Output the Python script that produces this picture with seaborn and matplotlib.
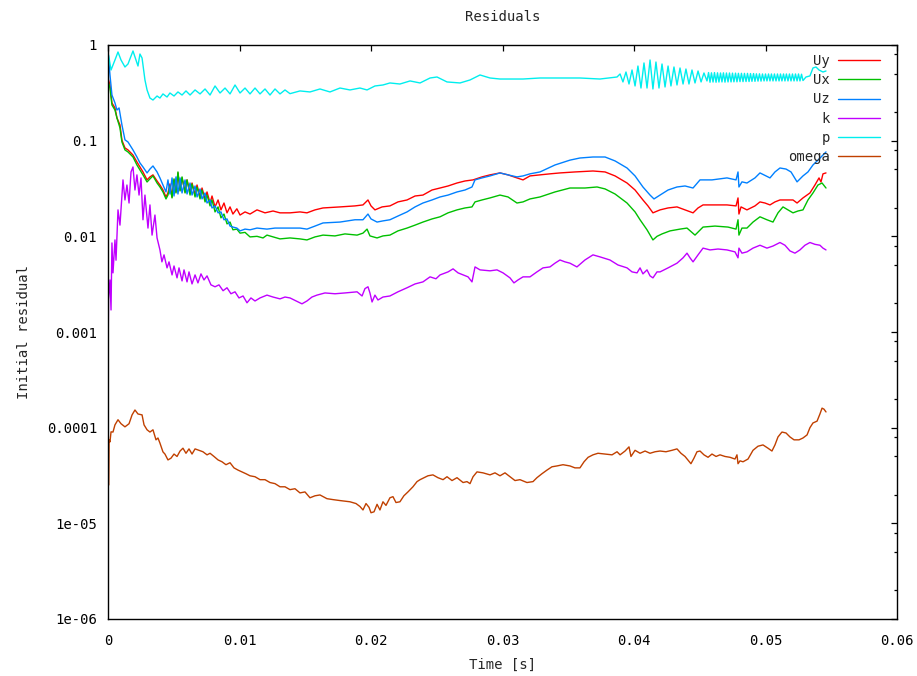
import numpy as np
import pandas as pd
import matplotlib
matplotlib.use("Agg")
import matplotlib.pyplot as plt
from matplotlib.lines import Line2D
from matplotlib.ticker import FixedLocator, NullFormatter
import seaborn as sns

# ---------------- data ----------------
fields = ["Uy", "Ux", "Uz", "k", "p", "omega"]
colors = ["#ff0000", "#00c000", "#0080ff", "#c000ff", "#00eeee", "#c04000"]

x_ticks = [0, 0.01, 0.02, 0.03, 0.04, 0.05, 0.06]
x_tick_labels = ["0", "0.01", "0.02", "0.03", "0.04", "0.05", "0.06"]
y_ticks = [1e-6, 1e-5, 1e-4, 1e-3, 1e-2, 1e-1, 1]
y_tick_labels = ["1e-06", "1e-05", "0.0001", "0.001", "0.01", "0.1", "1"]
y_minor_ticks = [m * 10.0 ** e for e in range(-6, 0) for m in (2, 5, 8)]

# (time [s], initial residual)
uy = [(0, 0.45), (0.00015, 0.382), (0.0003, 0.248), (0.00053, 0.22), (0.00068, 0.173), (0.00091, 0.146),
      (0.00106, 0.101), (0.00129, 0.084), (0.00152, 0.080), (0.0019, 0.0708), (0.0022, 0.0599),
      (0.00243, 0.0531), (0.00266, 0.0471), (0.00297, 0.0389), (0.00319, 0.0418), (0.00342, 0.0439),
      (0.00373, 0.0379), (0.00395, 0.0344), (0.00418, 0.0305), (0.00441, 0.0258), (0.00456, 0.0284),
      (0.00471, 0.0353), (0.00487, 0.0258), (0.00502, 0.0389), (0.00517, 0.0291), (0.00532, 0.046),
      (0.00548, 0.0305), (0.00563, 0.0408), (0.00586, 0.0291), (0.00601, 0.0389), (0.00624, 0.0284),
      (0.00639, 0.0361), (0.00662, 0.0271), (0.00677, 0.0344), (0.007, 0.0258), (0.00715, 0.032),
      (0.00738, 0.0246), (0.00753, 0.0291), (0.00776, 0.0223), (0.00791, 0.0264), (0.00814, 0.0203),
      (0.00837, 0.024), (0.00859, 0.0189), (0.00882, 0.0223), (0.00905, 0.0176), (0.00928, 0.0203),
      (0.0095, 0.0171), (0.0098, 0.0194), (0.01004, 0.0167), (0.01042, 0.018), (0.0108, 0.0171),
      (0.01133, 0.0189), (0.01194, 0.0176), (0.01255, 0.0184), (0.01308, 0.0176), (0.01384, 0.0176),
      (0.0146, 0.018), (0.01513, 0.0176), (0.01574, 0.0189), (0.01635, 0.0198), (0.01764, 0.0203),
      (0.01878, 0.0208), (0.01939, 0.0213), (0.01977, 0.024), (0.02, 0.0208), (0.0203, 0.0189),
      (0.02084, 0.0203), (0.02144, 0.0208), (0.02205, 0.0229), (0.02274, 0.024), (0.02335, 0.0264),
      (0.02395, 0.027), (0.02464, 0.0305), (0.02525, 0.032), (0.02586, 0.0336), (0.02654, 0.0361),
      (0.02715, 0.0379), (0.02776, 0.0389), (0.02844, 0.0418), (0.02905, 0.0439), (0.02981, 0.046),
      (0.03042, 0.0439), (0.0311, 0.0408), (0.03156, 0.0389), (0.03209, 0.0428), (0.03285, 0.0439),
      (0.03361, 0.045), (0.03437, 0.046), (0.03551, 0.0471), (0.03688, 0.0482), (0.0378, 0.0471),
      (0.03856, 0.0428), (0.03947, 0.0361), (0.04008, 0.0305), (0.04068, 0.024), (0.04106, 0.0208),
      (0.04144, 0.0176), (0.04198, 0.0189), (0.04259, 0.0198), (0.04327, 0.0203), (0.04388, 0.0189),
      (0.04449, 0.0176), (0.04487, 0.0198), (0.04525, 0.0213), (0.04616, 0.0213), (0.04707, 0.0213),
      (0.04776, 0.0208), (0.04791, 0.0252), (0.04798, 0.0171), (0.04814, 0.0203), (0.04859, 0.0189),
      (0.0492, 0.0208), (0.04958, 0.0229), (0.04996, 0.0223), (0.05034, 0.0213), (0.05072, 0.0229),
      (0.0511, 0.024), (0.05163, 0.024), (0.05209, 0.024), (0.0524, 0.0223), (0.05285, 0.0252),
      (0.05338, 0.0284), (0.05376, 0.0344), (0.05407, 0.0408), (0.05422, 0.037), (0.05437, 0.045),
      (0.0546, 0.046)]

ux = [(0, 0.42), (0.00015, 0.355), (0.0003, 0.236), (0.00053, 0.209), (0.00068, 0.173), (0.00091, 0.136),
      (0.00106, 0.0969), (0.00129, 0.080), (0.00152, 0.0762), (0.0019, 0.0675), (0.0022, 0.0557),
      (0.00243, 0.0494), (0.00266, 0.0439), (0.00297, 0.037), (0.00319, 0.0399), (0.00342, 0.0428),
      (0.00373, 0.0361), (0.00395, 0.0328), (0.00418, 0.0291), (0.00441, 0.0246), (0.00456, 0.027),
      (0.00471, 0.0336), (0.00487, 0.0252), (0.00502, 0.0399), (0.00517, 0.0284), (0.00532, 0.0471),
      (0.00548, 0.0298), (0.00563, 0.0418), (0.00586, 0.0284), (0.00601, 0.0389), (0.00624, 0.027),
      (0.00639, 0.0353), (0.00662, 0.0258), (0.00677, 0.0328), (0.007, 0.0246), (0.00715, 0.0305),
      (0.00738, 0.0229), (0.00753, 0.027), (0.00776, 0.0208), (0.00791, 0.024), (0.00814, 0.018),
      (0.00837, 0.0203), (0.00859, 0.0156), (0.00882, 0.0171), (0.00905, 0.0135), (0.00928, 0.0141),
      (0.0095, 0.0117), (0.0098, 0.0119), (0.01004, 0.0108), (0.01042, 0.0110), (0.0108, 0.00986),
      (0.01133, 0.0100), (0.01179, 0.00962), (0.01209, 0.0103), (0.01255, 0.00986), (0.01308, 0.0094),
      (0.01384, 0.00962), (0.0146, 0.0094), (0.01513, 0.00917), (0.01574, 0.00986), (0.01635, 0.0103),
      (0.01726, 0.0101), (0.01802, 0.0106), (0.01894, 0.0103), (0.01939, 0.0108), (0.0197, 0.0119),
      (0.01992, 0.0101), (0.02046, 0.00962), (0.02091, 0.0101), (0.02144, 0.0103), (0.02205, 0.0114),
      (0.02274, 0.0122), (0.02335, 0.0131), (0.02395, 0.0141), (0.02464, 0.0152), (0.02525, 0.016),
      (0.02586, 0.0176), (0.02654, 0.0189), (0.02715, 0.0198), (0.02768, 0.0203), (0.02791, 0.0229),
      (0.02844, 0.024), (0.02905, 0.0252), (0.02981, 0.027), (0.03042, 0.0258), (0.0311, 0.0223),
      (0.03156, 0.0229), (0.03209, 0.0246), (0.03285, 0.0258), (0.03399, 0.0291), (0.03513, 0.032),
      (0.03627, 0.032), (0.03719, 0.0328), (0.0378, 0.0313), (0.03856, 0.0277), (0.03947, 0.0223),
      (0.04008, 0.018), (0.04046, 0.0149), (0.04099, 0.0117), (0.04144, 0.00917), (0.04175, 0.0100),
      (0.04213, 0.0106), (0.04274, 0.0114), (0.0435, 0.0119), (0.04403, 0.0122), (0.04464, 0.0103),
      (0.04525, 0.0125), (0.04616, 0.0128), (0.04715, 0.0125), (0.04776, 0.0119), (0.04791, 0.0149),
      (0.04798, 0.0103), (0.04821, 0.0122), (0.04859, 0.0122), (0.04905, 0.0141), (0.04958, 0.016),
      (0.05011, 0.0149), (0.05057, 0.0141), (0.05095, 0.0176), (0.05133, 0.0203), (0.05171, 0.0189),
      (0.05209, 0.0176), (0.05247, 0.0184), (0.05285, 0.0189), (0.05323, 0.024), (0.05361, 0.0284),
      (0.05399, 0.0344), (0.0543, 0.0361), (0.0546, 0.032)]

uz = [(0, 0.025), (0.00002, 0.8), (0.00015, 0.486), (0.0003, 0.30), (0.00053, 0.248), (0.00068, 0.209),
      (0.00084, 0.22), (0.00106, 0.146), (0.00129, 0.102), (0.00152, 0.0969), (0.0019, 0.080),
      (0.0022, 0.0675), (0.00243, 0.0585), (0.00266, 0.0531), (0.00297, 0.046), (0.00319, 0.0505),
      (0.00342, 0.0544), (0.00373, 0.0471), (0.00395, 0.0408), (0.00418, 0.0344), (0.00441, 0.0291),
      (0.00456, 0.0389), (0.00471, 0.0277), (0.00487, 0.0408), (0.00502, 0.0264), (0.00517, 0.0418),
      (0.00532, 0.0277), (0.00548, 0.0408), (0.00563, 0.0284), (0.00586, 0.0389), (0.00601, 0.0277),
      (0.00624, 0.0361), (0.00639, 0.027), (0.00662, 0.0336), (0.00677, 0.0258), (0.007, 0.0313),
      (0.00715, 0.0246), (0.00738, 0.0284), (0.00753, 0.0223), (0.00776, 0.024), (0.00791, 0.0198),
      (0.00814, 0.0208), (0.00837, 0.0176), (0.00859, 0.018), (0.00882, 0.0149), (0.00905, 0.0152),
      (0.00928, 0.0128), (0.0095, 0.0125), (0.0098, 0.0122), (0.01004, 0.0114), (0.01042, 0.0119),
      (0.0108, 0.0117), (0.01133, 0.0122), (0.01209, 0.0119), (0.0127, 0.0122), (0.01384, 0.0122),
      (0.0146, 0.0122), (0.01513, 0.0119), (0.01574, 0.0128), (0.01635, 0.0138), (0.01764, 0.0141),
      (0.01878, 0.0149), (0.01939, 0.0149), (0.01977, 0.0171), (0.02, 0.0152), (0.02046, 0.0141),
      (0.02091, 0.0145), (0.02144, 0.0149), (0.02205, 0.0163), (0.02274, 0.018), (0.02335, 0.0203),
      (0.02395, 0.0223), (0.02464, 0.024), (0.02525, 0.0258), (0.02586, 0.027), (0.02654, 0.0291),
      (0.02715, 0.0305), (0.02768, 0.0328), (0.02791, 0.0389), (0.02844, 0.0408), (0.02905, 0.0428),
      (0.02981, 0.046), (0.03042, 0.0439), (0.0311, 0.0418), (0.03156, 0.0428), (0.03209, 0.045),
      (0.03285, 0.0471), (0.03399, 0.0557), (0.03513, 0.0626), (0.03589, 0.0659), (0.03688, 0.0675),
      (0.0378, 0.0675), (0.03856, 0.0614), (0.03947, 0.0518), (0.04008, 0.0428), (0.04068, 0.0328),
      (0.04122, 0.027), (0.04152, 0.0246), (0.04198, 0.027), (0.04259, 0.0305), (0.04327, 0.0328),
      (0.04388, 0.0336), (0.04449, 0.032), (0.04502, 0.0389), (0.04593, 0.0389), (0.04707, 0.0408),
      (0.04776, 0.0389), (0.04791, 0.0471), (0.04798, 0.0328), (0.04821, 0.0371), (0.04859, 0.0361),
      (0.0492, 0.0408), (0.04958, 0.046), (0.05004, 0.0428), (0.05034, 0.0408), (0.05072, 0.0471),
      (0.0511, 0.0518), (0.05156, 0.0505), (0.05194, 0.0471), (0.0524, 0.0371), (0.05285, 0.0428),
      (0.05323, 0.0471), (0.05361, 0.0557), (0.05399, 0.0626), (0.0543, 0.0692), (0.0546, 0.0762)]

k = [(0, 0.00043), (0.00004, 0.0022), (0.00015, 0.0035), (0.00023, 0.0017), (0.0003, 0.00853),
     (0.00038, 0.00415), (0.00053, 0.00917), (0.00061, 0.00563), (0.00076, 0.0189), (0.00091, 0.0131),
     (0.00114, 0.0389), (0.00129, 0.024), (0.00144, 0.0344), (0.0016, 0.0223), (0.00175, 0.0471),
     (0.0019, 0.0531), (0.00205, 0.0305), (0.0022, 0.0439), (0.00236, 0.027), (0.00251, 0.0408),
     (0.00266, 0.0149), (0.00281, 0.027), (0.00304, 0.0122), (0.00319, 0.0213), (0.00335, 0.0103),
     (0.00357, 0.0167), (0.00373, 0.00962), (0.00395, 0.00721), (0.0041, 0.00541), (0.00426, 0.0064),
     (0.00449, 0.00468), (0.00464, 0.00541), (0.00487, 0.00395), (0.00502, 0.0049), (0.00525, 0.00368),
     (0.0054, 0.00468), (0.00563, 0.00342), (0.00578, 0.00446), (0.00601, 0.00334), (0.00616, 0.00425),
     (0.00639, 0.00318), (0.00662, 0.00395), (0.00684, 0.00326), (0.00707, 0.00405), (0.0073, 0.0035),
     (0.00753, 0.00386), (0.00783, 0.00311), (0.00814, 0.00297), (0.00844, 0.00311), (0.00875, 0.0027),
     (0.00905, 0.0029), (0.00935, 0.00251), (0.00966, 0.00263), (0.00996, 0.00227), (0.01027, 0.00238),
     (0.01057, 0.00202), (0.01087, 0.00227), (0.01118, 0.00211), (0.01156, 0.00227), (0.01209, 0.00243),
     (0.01255, 0.00232), (0.01308, 0.00222), (0.01346, 0.00232), (0.01384, 0.00227), (0.0143, 0.00211),
     (0.01475, 0.00197), (0.01513, 0.00211), (0.01551, 0.00232), (0.01589, 0.00243), (0.0165, 0.00256),
     (0.01726, 0.00251), (0.01802, 0.00256), (0.01894, 0.00263), (0.01932, 0.00238), (0.01954, 0.00284),
     (0.01977, 0.00297), (0.01992, 0.00256), (0.02008, 0.00206), (0.0203, 0.00243), (0.02053, 0.00216),
     (0.02091, 0.00232), (0.02144, 0.00238), (0.02205, 0.00263), (0.02274, 0.0029), (0.02335, 0.00318),
     (0.02395, 0.00334), (0.02449, 0.00377), (0.02494, 0.0036), (0.02525, 0.00395), (0.02586, 0.00425),
     (0.02624, 0.00457), (0.02662, 0.00415), (0.027, 0.00395), (0.02738, 0.00377), (0.02768, 0.00334),
     (0.02791, 0.00479), (0.02829, 0.00446), (0.02905, 0.00436), (0.02958, 0.00446), (0.03004, 0.00415),
     (0.03057, 0.00368), (0.03087, 0.00326), (0.03118, 0.0035), (0.03156, 0.00377), (0.03209, 0.00377),
     (0.03262, 0.00425), (0.03308, 0.00468), (0.03361, 0.00479), (0.03399, 0.00524), (0.03437, 0.00566),
     (0.03475, 0.00541), (0.03513, 0.00524), (0.03566, 0.00479), (0.03627, 0.00566), (0.03688, 0.0064),
     (0.03741, 0.0061), (0.03817, 0.00566), (0.03878, 0.00502), (0.03947, 0.00468), (0.03985, 0.00425),
     (0.04023, 0.00415), (0.04046, 0.00468), (0.04068, 0.00405), (0.04099, 0.00446), (0.04122, 0.00386),
     (0.04144, 0.00368), (0.04175, 0.00425), (0.04198, 0.00425), (0.04259, 0.00468), (0.04327, 0.00524),
     (0.04373, 0.00596), (0.04403, 0.00667), (0.04426, 0.00596), (0.04449, 0.00541), (0.04487, 0.0064),
     (0.04525, 0.00753), (0.04578, 0.00721), (0.04639, 0.00737), (0.04707, 0.00721), (0.04768, 0.00688),
     (0.04791, 0.00596), (0.04798, 0.00753), (0.04821, 0.00667), (0.04859, 0.00688), (0.04905, 0.00753),
     (0.04958, 0.00807), (0.05011, 0.00753), (0.05057, 0.00792), (0.0511, 0.00862), (0.05148, 0.00807),
     (0.05186, 0.00704), (0.05224, 0.00667), (0.05262, 0.00721), (0.053, 0.00807), (0.05338, 0.00862),
     (0.05376, 0.00825), (0.05414, 0.00807), (0.05437, 0.00753), (0.0546, 0.00721)]

p = [(0, 0.286), (0.00004, 0.786), (0.00023, 0.548), (0.00053, 0.697), (0.00076, 0.845), (0.00099, 0.697),
     (0.00129, 0.589), (0.00152, 0.633), (0.0019, 0.866), (0.00213, 0.697), (0.00228, 0.603),
     (0.00243, 0.805), (0.00259, 0.731), (0.00281, 0.431), (0.00297, 0.339), (0.00319, 0.279),
     (0.00342, 0.266), (0.00373, 0.293), (0.00395, 0.279), (0.00418, 0.308), (0.00449, 0.286),
     (0.00471, 0.315), (0.00502, 0.293), (0.00532, 0.323), (0.00563, 0.300), (0.00593, 0.331),
     (0.00624, 0.300), (0.00662, 0.339), (0.0070, 0.308), (0.00738, 0.347), (0.00776, 0.300),
     (0.00814, 0.373), (0.00852, 0.315), (0.0089, 0.355), (0.00928, 0.308), (0.00966, 0.382),
     (0.01004, 0.315), (0.01042, 0.355), (0.0108, 0.308), (0.01118, 0.355), (0.01156, 0.308),
     (0.01194, 0.347), (0.01232, 0.300), (0.0127, 0.347), (0.01308, 0.308), (0.01346, 0.339),
     (0.01384, 0.310), (0.0146, 0.331), (0.01536, 0.323), (0.01612, 0.347), (0.01688, 0.323),
     (0.01764, 0.355), (0.0184, 0.339), (0.01916, 0.355), (0.0197, 0.339), (0.0203, 0.373),
     (0.02091, 0.382), (0.02144, 0.401), (0.0222, 0.391), (0.02297, 0.421), (0.02373, 0.401),
     (0.02449, 0.452), (0.02502, 0.463), (0.02578, 0.411), (0.02677, 0.401), (0.02753, 0.431),
     (0.02829, 0.486), (0.02905, 0.452), (0.02981, 0.441), (0.03156, 0.441), (0.03285, 0.452),
     (0.03437, 0.452), (0.03589, 0.452), (0.03741, 0.441), (0.03871, 0.463),
     (0.03894, 0.498), (0.03916, 0.411), (0.03939, 0.522), (0.03962, 0.391), (0.03985, 0.548),
     (0.04008, 0.373), (0.0403, 0.603), (0.04053, 0.355), (0.04076, 0.649), (0.04099, 0.355),
     (0.04122, 0.697), (0.04144, 0.347), (0.04167, 0.664), (0.0419, 0.355), (0.04213, 0.633),
     (0.04236, 0.364), (0.04259, 0.603), (0.04281, 0.373), (0.04304, 0.589), (0.04327, 0.382),
     (0.0435, 0.575), (0.04373, 0.391), (0.04395, 0.561), (0.04418, 0.391), (0.04441, 0.548),
     (0.04464, 0.401), (0.04487, 0.535), (0.0451, 0.411), (0.04532, 0.510), (0.04555, 0.421),
     (0.04567, 0.515), (0.04578, 0.408), (0.04589, 0.512), (0.04601, 0.410), (0.04612, 0.515),
     (0.04624, 0.408), (0.04635, 0.512), (0.04646, 0.410), (0.04658, 0.510), (0.04669, 0.411),
     (0.0468, 0.512), (0.04692, 0.409), (0.04703, 0.510), (0.04715, 0.411), (0.04726, 0.510),
     (0.04738, 0.411), (0.04749, 0.508), (0.0476, 0.412), (0.04772, 0.508), (0.04783, 0.412),
     (0.04794, 0.506), (0.04806, 0.414), (0.04817, 0.506), (0.04829, 0.414), (0.0484, 0.505),
     (0.04852, 0.415), (0.04863, 0.505), (0.04875, 0.415), (0.04886, 0.503), (0.04897, 0.417),
     (0.04909, 0.503), (0.0492, 0.417), (0.04931, 0.500), (0.04943, 0.419), (0.04954, 0.500),
     (0.04966, 0.419), (0.04977, 0.498), (0.04989, 0.421), (0.05, 0.498), (0.05011, 0.421),
     (0.05023, 0.498), (0.05034, 0.421), (0.05045, 0.498), (0.05057, 0.421), (0.05068, 0.498),
     (0.0508, 0.421), (0.05091, 0.498), (0.05103, 0.421), (0.05114, 0.498), (0.05125, 0.421),
     (0.05137, 0.498), (0.05148, 0.421), (0.05159, 0.498), (0.05171, 0.421), (0.05182, 0.498),
     (0.05194, 0.421), (0.05205, 0.498), (0.05217, 0.421), (0.05228, 0.498), (0.0524, 0.421),
     (0.05251, 0.498), (0.05262, 0.421), (0.05274, 0.495), (0.05285, 0.425),
     (0.05308, 0.463), (0.05338, 0.475), (0.05361, 0.575), (0.05384, 0.589), (0.05407, 0.548),
     (0.05437, 0.522), (0.0546, 0.535)]

omega = [(0, 0.00014), (0.00001, 1.5e-5), (0.00002, 0.000125), (0.00004, 2.5e-5), (0.00008, 7.46e-5),
         (0.00015, 7.1e-5), (0.00023, 9.04e-5), (0.00038, 9.0e-5), (0.00053, 1.07e-4), (0.00076, 1.21e-4),
         (0.00099, 1.1e-4), (0.00129, 1.02e-4), (0.0016, 1.1e-4), (0.00183, 1.36e-4), (0.00205, 1.53e-4),
         (0.00228, 1.39e-4), (0.00259, 1.36e-4), (0.00274, 1.07e-4), (0.00297, 9.5e-5), (0.00319, 9.0e-5),
         (0.00342, 9.5e-5), (0.00365, 7.46e-5), (0.0038, 7.8e-5), (0.00395, 6.9e-5), (0.00418, 5.58e-5),
         (0.00433, 5.3e-5), (0.00456, 4.6e-5), (0.00479, 4.8e-5), (0.00502, 5.3e-5), (0.00525, 5.0e-5),
         (0.00548, 5.7e-5), (0.0057, 6.1e-5), (0.00593, 5.4e-5), (0.00616, 6.0e-5), (0.00639, 5.3e-5),
         (0.00662, 6.0e-5), (0.00692, 5.8e-5), (0.00722, 5.6e-5), (0.00753, 5.2e-5), (0.00776, 5.4e-5),
         (0.00806, 5.0e-5), (0.00837, 4.6e-5), (0.00867, 4.4e-5), (0.00897, 4.1e-5), (0.00928, 4.3e-5),
         (0.00958, 3.8e-5), (0.00989, 3.6e-5), (0.01019, 3.45e-5), (0.01049, 3.3e-5), (0.0108, 3.14e-5),
         (0.01118, 3.07e-5), (0.01156, 2.86e-5), (0.01194, 2.86e-5), (0.01232, 2.67e-5), (0.0127, 2.6e-5),
         (0.01308, 2.41e-5), (0.01346, 2.41e-5), (0.01384, 2.25e-5), (0.01422, 2.3e-5), (0.0146, 2.08e-5),
         (0.01498, 2.13e-5), (0.01536, 1.85e-5), (0.01574, 1.94e-5), (0.01612, 1.98e-5), (0.01665, 1.81e-5),
         (0.01711, 1.77e-5), (0.01764, 1.73e-5), (0.0184, 1.68e-5), (0.01886, 1.61e-5), (0.01916, 1.5e-5),
         (0.01939, 1.38e-5), (0.01962, 1.61e-5), (0.01985, 1.47e-5), (0.02, 1.29e-5), (0.02023, 1.32e-5),
         (0.02046, 1.58e-5), (0.02068, 1.38e-5), (0.02091, 1.68e-5), (0.02114, 1.54e-5), (0.02144, 1.85e-5),
         (0.02167, 1.9e-5), (0.0219, 1.65e-5), (0.0222, 1.68e-5), (0.0225, 1.94e-5), (0.02281, 2.13e-5),
         (0.02319, 2.41e-5), (0.0235, 2.73e-5), (0.02373, 2.86e-5), (0.02403, 3.0e-5), (0.02433, 3.14e-5),
         (0.02471, 3.21e-5), (0.02509, 3.0e-5), (0.02548, 2.86e-5), (0.02578, 3.07e-5), (0.02616, 2.8e-5),
         (0.02654, 3.0e-5), (0.027, 2.67e-5), (0.0273, 2.73e-5), (0.02753, 2.6e-5), (0.02776, 3.07e-5),
         (0.02806, 3.45e-5), (0.02852, 3.37e-5), (0.02905, 3.21e-5), (0.02943, 3.37e-5), (0.02981, 3.14e-5),
         (0.03019, 3.37e-5), (0.03057, 3.07e-5), (0.03095, 2.8e-5), (0.03133, 2.86e-5), (0.03186, 2.67e-5),
         (0.03232, 2.73e-5), (0.03262, 3.0e-5), (0.033, 3.3e-5), (0.03338, 3.6e-5), (0.03376, 3.9e-5),
         (0.03414, 3.98e-5), (0.0346, 4.1e-5), (0.03513, 3.98e-5), (0.03551, 3.8e-5), (0.03589, 3.8e-5),
         (0.0362, 4.4e-5), (0.03651, 4.9e-5), (0.03688, 5.2e-5), (0.03726, 5.4e-5), (0.03779, 5.3e-5),
         (0.03833, 5.2e-5), (0.03871, 5.6e-5), (0.03894, 5.2e-5), (0.03932, 5.7e-5), (0.03962, 6.3e-5),
         (0.03977, 5.0e-5), (0.04008, 5.8e-5), (0.04046, 5.4e-5), (0.04084, 5.7e-5), (0.04122, 5.4e-5),
         (0.0416, 5.6e-5), (0.04198, 5.7e-5), (0.04243, 5.6e-5), (0.04289, 5.8e-5), (0.04327, 6.0e-5),
         (0.04357, 5.4e-5), (0.04388, 5.0e-5), (0.0441, 4.6e-5), (0.04433, 4.2e-5), (0.04456, 4.8e-5),
         (0.04479, 5.6e-5), (0.04502, 5.7e-5), (0.04532, 5.2e-5), (0.04563, 4.9e-5), (0.04593, 5.3e-5),
         (0.04624, 5.0e-5), (0.04654, 5.2e-5), (0.04692, 5.0e-5), (0.0473, 4.9e-5), (0.04768, 4.7e-5),
         (0.04783, 5.2e-5), (0.04791, 4.2e-5), (0.04806, 4.5e-5), (0.04829, 4.4e-5), (0.04867, 4.7e-5),
         (0.04905, 5.8e-5), (0.04943, 6.4e-5), (0.04981, 6.6e-5), (0.05019, 6.1e-5), (0.05049, 5.7e-5),
         (0.05072, 6.6e-5), (0.05095, 8.0e-5), (0.05125, 9.0e-5), (0.05156, 8.8e-5), (0.05186, 8.0e-5),
         (0.05217, 7.46e-5), (0.05255, 7.46e-5), (0.05285, 7.8e-5), (0.05316, 8.4e-5), (0.05338, 1.0e-4),
         (0.05361, 1.12e-4), (0.05392, 1.17e-4), (0.05414, 1.39e-4), (0.0543, 1.6e-4), (0.05445, 1.56e-4),
         (0.0546, 1.46e-4)]

series = {"Uy": uy, "Ux": ux, "Uz": uz, "k": k, "p": p, "omega": omega}

# ---------------- build long table ----------------
frames = []
for name in fields:
    arr = np.array(series[name], dtype=float)
    frames.append(pd.DataFrame({"t": arr[:, 0], "residual": arr[:, 1], "field": name}))
df = pd.concat(frames, ignore_index=True)

# ---------------- plot ----------------
sns.set_theme(style="white")
plt.rcParams["font.family"] = ["DejaVu Sans Mono"]
plt.rcParams["font.size"] = 10

fig = plt.figure(figsize=(9.17, 6.76), dpi=100)
ax = fig.add_axes([108 / 917, 1 - 619 / 676, (897 - 108) / 917, (619 - 45) / 676])

palette = dict(zip(fields, colors))
sns.lineplot(data=df, x="t", y="residual", hue="field", hue_order=fields, palette=palette,
             estimator=None, sort=False, linewidth=1.0, legend=False, ax=ax)

ax.set_yscale("log")
ax.set_xlim(0, 0.06)
ax.set_ylim(1e-6, 1)
ax.set_xticks(x_ticks)
ax.set_xticklabels(x_tick_labels)
ax.yaxis.set_major_locator(FixedLocator(y_ticks))
ax.set_yticklabels(y_tick_labels)
ax.yaxis.set_minor_locator(FixedLocator(y_minor_ticks))
ax.yaxis.set_minor_formatter(NullFormatter())
ax.xaxis.set_minor_locator(FixedLocator([]))

ax.tick_params(which="both", direction="in", top=True, right=True, colors="black",
               labelcolor="black", labelsize=10)
ax.tick_params(which="major", length=4.5, width=0.9)
ax.tick_params(which="minor", length=2.5, width=0.9)
ax.tick_params(axis="y", pad=8)
ax.tick_params(axis="x", pad=11)
for s in ax.spines.values():
    s.set_visible(True)
    s.set_color("black")
    s.set_linewidth(1.0)
ax.grid(False)

ax.set_xlabel("Time [s]", fontsize=10, labelpad=7)
ax.set_ylabel("Initial residual", fontsize=10, labelpad=11)
ax.set_title("Residuals", fontsize=10, pad=17)

handles = [Line2D([0], [0], color=c, lw=1.0) for c in colors]
ax.legend(handles, fields, loc="upper right", bbox_to_anchor=(0.9785, 0.984), frameon=False,
          markerfirst=False, handlelength=3.0, handletextpad=0.6, labelspacing=0.37,
          borderpad=0, borderaxespad=0, fontsize=10)

fig.savefig("out.png", dpi=100, facecolor="white")
